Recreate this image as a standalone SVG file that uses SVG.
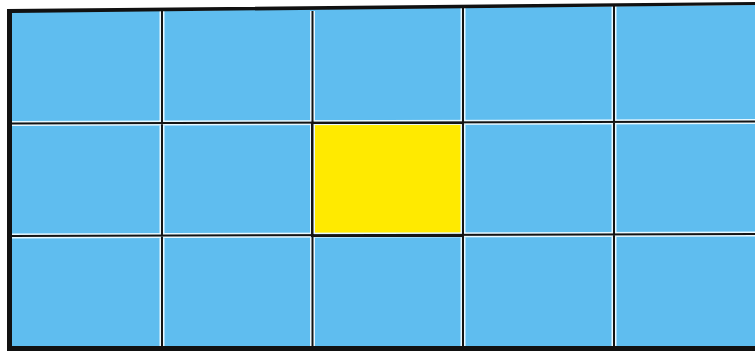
<svg xmlns="http://www.w3.org/2000/svg" width="755" height="351" viewBox="0 0 755 351">
<style>
.halo{stroke:#e8f8ff;stroke-width:5;fill:none}
.line{stroke:#141414;stroke-width:2;fill:none}
</style>
<rect width="755" height="351" fill="#ffffff"/>
<g id="field">
<polygon points="11,12 755,5 755,347 11,347" fill="#5fbdef"/>
<rect id="center" x="312" y="123" width="151" height="113" fill="#ffea00"/>
</g>
<g id="grid">
<path class="halo" d="M10,123.5 L755,121.5 M10,236 L755,234 M162,11 V347 M312.5,11 V347 M463,7 V347 M614,6 V347"/>
<path class="line" d="M10,123.5 L755,121.5 M10,236 L755,234 M162,11 V347 M312.5,11 V347 M463,7 V347 M614,6 V347"/>
<rect x="312" y="123" width="151" height="113" fill="none" stroke="#141414" stroke-width="2"/>
</g>
<g id="frame">
<polygon points="7,9 755,2 755,5 12,13 12,346 755,346 755,351 7,351" fill="#111111"/>
</g>
</svg>
